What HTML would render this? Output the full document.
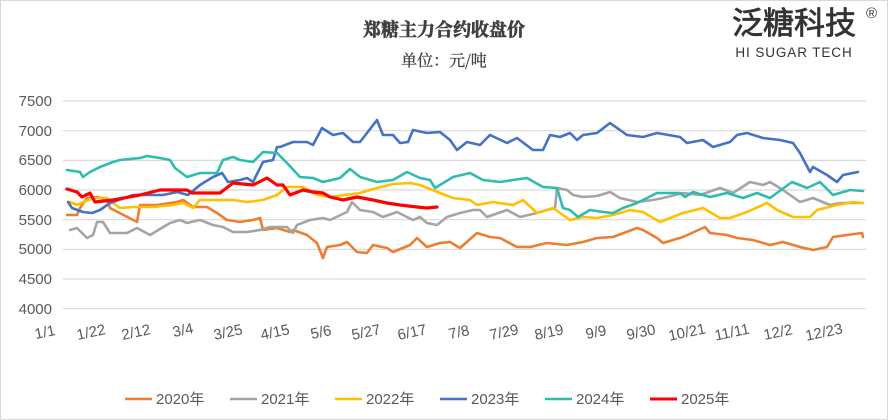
<!DOCTYPE html>
<html><head><meta charset="utf-8"><style>
body{margin:0;background:#fff}
svg{display:block}
text{font-family:"Liberation Sans","Noto Sans CJK SC",sans-serif}
</style></head><body>
<svg width="888" height="420" viewBox="0 0 888 420" xmlns="http://www.w3.org/2000/svg">
<rect x="0.5" y="0.5" width="887" height="419" fill="#fff" stroke="#d9d9d9"/>
<text x="444" y="36" text-anchor="middle" font-size="18" font-weight="bold" fill="#404040" stroke="#404040" stroke-width="0.6" style="font-family:'Noto Serif CJK SC',serif">郑糖主力合约收盘价</text>
<text x="444" y="66" text-anchor="middle" font-size="16" fill="#404040" stroke="#404040" stroke-width="0.3" style="font-family:'Noto Serif CJK SC',serif">单位：元/吨</text>
<text x="794" y="34" text-anchor="middle" font-size="31" fill="#333" stroke="#333" stroke-width="0.8" style="font-family:'Noto Sans CJK SC',sans-serif">泛糖科技</text>
<text x="866" y="18" font-size="15" fill="#333">®</text>
<text x="794" y="57" text-anchor="middle" font-size="13.5" fill="#333" letter-spacing="0.9">HI SUGAR TECH</text>
<g stroke="#d9d9d9" stroke-width="1.2">
<line x1="63" x2="866" y1="101" y2="101"/><line x1="63" x2="866" y1="130.7" y2="130.7"/>
<line x1="63" x2="866" y1="160.4" y2="160.4"/><line x1="63" x2="866" y1="190" y2="190"/>
<line x1="63" x2="866" y1="219.7" y2="219.7"/><line x1="63" x2="866" y1="249.4" y2="249.4"/>
<line x1="63" x2="866" y1="279" y2="279"/><line x1="63" x2="866" y1="308.7" y2="308.7"/>
</g>
<g font-size="15" fill="#595959" text-anchor="end">
<text x="52" y="106">7500</text><text x="52" y="136">7000</text><text x="52" y="165">6500</text>
<text x="52" y="195">6000</text><text x="52" y="225">5500</text><text x="52" y="254">5000</text>
<text x="52" y="284">4500</text><text x="52" y="314">4000</text>
</g>
<g font-size="15" fill="#595959" text-anchor="middle">
<text transform="translate(46,337) rotate(-12)">1/1</text>
<text transform="translate(92,337) rotate(-12)">1/22</text>
<text transform="translate(137,337) rotate(-12)">2/12</text>
<text transform="translate(184,335) rotate(-12)">3/4</text>
<text transform="translate(229,337) rotate(-12)">3/25</text>
<text transform="translate(276,337) rotate(-12)">4/15</text>
<text transform="translate(322,337) rotate(-12)">5/6</text>
<text transform="translate(367,337) rotate(-12)">5/27</text>
<text transform="translate(413,337) rotate(-12)">6/17</text>
<text transform="translate(460,337) rotate(-12)">7/8</text>
<text transform="translate(505,337) rotate(-12)">7/29</text>
<text transform="translate(550,337) rotate(-12)">8/19</text>
<text transform="translate(597,337) rotate(-12)">9/9</text>
<text transform="translate(642,337) rotate(-12)">9/30</text>
<text transform="translate(688,337) rotate(-12)">10/21</text>
<text transform="translate(733,337) rotate(-12)">11/11</text>
<text transform="translate(779,337) rotate(-12)">12/2</text>
<text transform="translate(825,337) rotate(-12)">12/23</text>
</g>
<g fill="none" stroke-width="2.6" stroke-linejoin="round" stroke-linecap="round">
<polyline stroke="#ED7D31" points="67,215 77,215 80,208 87,198 97,197 107,200 110,208 137,222 140,205 157,205 177,202 183,200 193,207 207,207 217,213 227,220 240,222 253,220 260,218 263,230 277,228 290,232 293,230 307,235 317,243 323,258 327,247 340,245 347,242 357,252 367,253 373,245 387,248 393,252 410,245 417,238 427,247 440,243 450,242 460,248 477,233 490,237 500,238 517,247 530,247 547,243 567,245 583,242 597,238 613,237 637,228 643,230 657,238 663,243 683,237 705,227 710,233 727,235 737,238 753,240 770,245 783,242 800,247 813,250 827,247 833,237 847,235 862,233 863,237"/>
<polyline stroke="#A5A5A5" points="70,230 77,228 87,238 93,235 97,222 103,222 110,233 127,233 137,228 150,235 170,223 180,220 187,223 200,220 213,225 223,227 233,232 247,232 260,230 270,227 287,227 293,233 297,225 310,220 323,218 330,220 347,212 352,202 360,210 373,212 383,217 397,212 413,220 420,217 427,223 437,225 447,217 460,213 473,210 480,210 487,217 507,210 520,217 537,213 547,210 555,208 557,188 567,190 573,195 583,197 597,196 610,192 620,198 637,202 653,200 663,198 683,193 700,195 720,188 733,193 750,182 763,185 770,182 783,190 800,202 813,198 830,205 840,203 863,203"/>
<polyline stroke="#FFC000" points="70,202 77,205 93,198 107,198 113,203 120,208 133,207 153,207 173,205 183,203 193,208 200,200 217,200 233,200 247,202 263,200 277,195 287,187 293,187 303,187 317,195 330,197 360,193 377,188 393,184 410,183 420,185 440,193 453,198 470,200 477,205 493,202 513,205 523,200 537,213 553,208 570,220 583,217 597,218 613,215 630,210 643,212 660,222 683,213 703,208 720,218 730,218 747,212 767,203 777,210 793,217 810,217 817,210 837,205 853,202 863,203"/>
<polyline stroke="#4472C4" points="68,202 72,208 83,212 92,213 100,210 110,203 133,195 153,195 163,195 177,192 188,195 200,185 213,177 222,173 228,182 240,180 247,178 253,182 263,162 273,160 277,147 280,147 293,142 300,142 307,142 313,145 322,128 333,135 343,133 353,142 360,142 367,133 377,120 383,135 393,135 400,143 408,142 413,130 427,133 440,132 450,140 457,150 467,142 480,145 490,135 507,143 517,138 533,150 543,150 550,135 560,137 570,133 577,140 583,135 597,133 610,123 627,135 643,137 657,133 680,137 687,143 703,140 713,147 730,142 737,135 747,133 763,138 780,140 793,143 800,153 810,172 813,167 827,175 837,182 843,175 858,172"/>
<polyline stroke="#2EBCAE" points="67,170 80,172 83,177 90,172 100,167 113,162 120,160 140,158 147,156 160,158 170,160 175,168 187,177 200,173 217,173 223,160 233,157 240,160 253,162 263,152 277,153 287,163 300,177 313,178 323,182 340,178 350,169 360,177 377,182 393,180 407,172 420,178 430,180 435,188 453,177 470,173 483,180 500,182 513,180 527,178 543,187 557,188 563,208 570,210 578,217 590,210 603,212 613,213 623,208 637,203 657,193 680,193 685,197 693,192 710,197 727,193 743,198 757,193 770,198 792,182 807,188 820,182 833,195 850,190 863,191"/>
<polyline stroke="#FF0000" stroke-width="3.2" points="67,189 77,192 82,197 90,193 95,202 113,200 140,195 160,190 187,190 192,193 203,193 220,193 233,183 253,185 263,180 267,178 277,185 283,185 290,195 303,190 313,192 323,193 330,197 343,200 357,197 373,200 387,203 400,205 417,207 427,208 437,207"/>
</g>
<g font-size="15" fill="#595959">
<line x1="125" x2="152" y1="399" y2="399" stroke="#ED7D31" stroke-width="2.6"/><text x="156" y="404">2020年</text>
<line x1="230" x2="257" y1="399" y2="399" stroke="#A5A5A5" stroke-width="2.6"/><text x="261" y="404">2021年</text>
<line x1="335" x2="362" y1="399" y2="399" stroke="#FFC000" stroke-width="2.6"/><text x="366" y="404">2022年</text>
<line x1="440" x2="467" y1="399" y2="399" stroke="#4472C4" stroke-width="2.6"/><text x="471" y="404">2023年</text>
<line x1="545" x2="572" y1="399" y2="399" stroke="#2EBCAE" stroke-width="2.6"/><text x="576" y="404">2024年</text>
<line x1="650" x2="677" y1="399" y2="399" stroke="#FF0000" stroke-width="3"/><text x="681" y="404">2025年</text>
</g>
</svg>
</body></html>
